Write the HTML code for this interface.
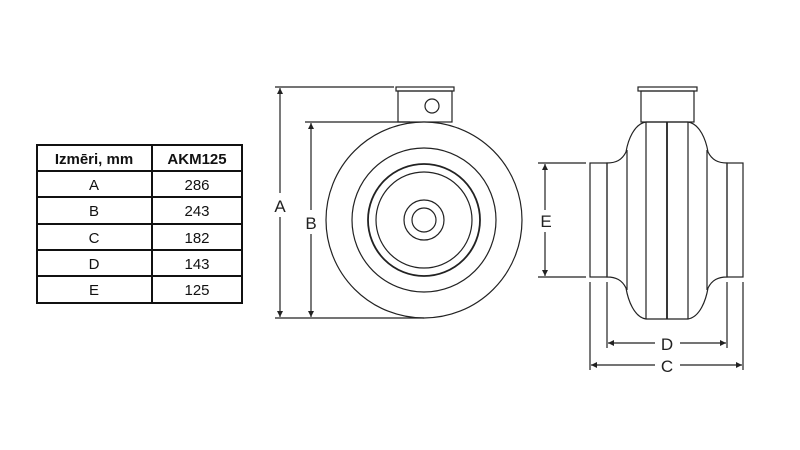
<!DOCTYPE html>
<html><head><meta charset="utf-8"><style>
body{margin:0;background:#fff;}
svg{display:block;}
text{font-family:"Liberation Sans",sans-serif;}
</style></head><body>
<svg width="800" height="450" viewBox="0 0 800 450" xmlns="http://www.w3.org/2000/svg">
<defs>
<marker id="ar" viewBox="0 0 10 10" refX="10" refY="5" markerWidth="10" markerHeight="6" orient="auto-start-reverse" markerUnits="userSpaceOnUse"><path d="M0,0 L10,5 L0,10 z" fill="#222"/></marker>
</defs>
<!-- table -->
<g stroke="#111" stroke-width="2" fill="none">
<rect x="37" y="145" width="205" height="158"/>
<line x1="152" y1="145" x2="152" y2="303"/>
<line x1="37" y1="171" x2="242" y2="171"/>
<line x1="37" y1="197" x2="242" y2="197"/>
<line x1="37" y1="224" x2="242" y2="224"/>
<line x1="37" y1="250" x2="242" y2="250"/>
<line x1="37" y1="276" x2="242" y2="276"/>
</g>
<g font-size="15" text-anchor="middle" fill="#111">
<text x="94" y="164" font-weight="bold">Izmēri, mm</text>
<text x="197" y="164" font-weight="bold">AKM125</text>
<text x="94" y="190">A</text><text x="197" y="190">286</text>
<text x="94" y="216">B</text><text x="197" y="216">243</text>
<text x="94" y="243">C</text><text x="197" y="243">182</text>
<text x="94" y="269">D</text><text x="197" y="269">143</text>
<text x="94" y="295">E</text><text x="197" y="295">125</text>
</g>
<!-- front view -->
<g stroke="#222" fill="none" stroke-width="1.2">
<rect x="396" y="87" width="58" height="4"/>
<rect x="398" y="91" width="54" height="31"/>
<circle cx="432" cy="106" r="7"/>
<circle cx="424" cy="220" r="98" fill="#fff"/>
<circle cx="424" cy="220" r="72"/>
<circle cx="424" cy="220" r="56" stroke-width="1.8"/>
<circle cx="424" cy="220" r="48"/>
<circle cx="424" cy="220" r="20"/>
<circle cx="424" cy="220" r="12"/>
<line x1="275" y1="87" x2="394" y2="87"/>
<line x1="305" y1="122" x2="410" y2="122"/>
<line x1="275" y1="318" x2="424" y2="318"/>
<line x1="280" y1="88" x2="280" y2="193" marker-start="url(#ar)"/>
<line x1="280" y1="217" x2="280" y2="317" marker-end="url(#ar)"/>
<line x1="311" y1="123" x2="311" y2="210" marker-start="url(#ar)"/>
<line x1="311" y1="234" x2="311" y2="317" marker-end="url(#ar)"/>
</g>
<g font-size="17" fill="#222" text-anchor="middle">
<text x="280" y="212">A</text>
<text x="311" y="229">B</text>
<text x="546" y="227">E</text>
<text x="667" y="350">D</text>
<text x="667" y="372">C</text>
</g>
<!-- side view -->
<g stroke="#222" fill="none" stroke-width="1.2">
<rect x="638" y="87" width="59" height="4"/>
<rect x="641" y="91" width="53" height="31"/>
<path d="M646,122 L688,122 C700,124 706,140 708,152 C712,160 718,163 727,163 L727,277 C718,277 712,280 708,288 C706,300 700,317 688,319 L646,319 C634,317 628,300 626,288 C622,280 616,277 607,277 L607,163 C616,163 622,160 626,152 C628,140 634,124 646,122 Z"/>
<rect x="590" y="163" width="17" height="114"/>
<rect x="727" y="163" width="16" height="114"/>
<line x1="627" y1="150" x2="627" y2="290"/>
<line x1="646" y1="122" x2="646" y2="319"/>
<line x1="667" y1="122" x2="667" y2="319" stroke-width="1.8"/>
<line x1="688" y1="122" x2="688" y2="319"/>
<line x1="707" y1="150" x2="707" y2="290"/>
<line x1="538" y1="163" x2="586" y2="163"/>
<line x1="538" y1="277" x2="586" y2="277"/>
<line x1="545" y1="164" x2="545" y2="210" marker-start="url(#ar)"/>
<line x1="545" y1="232" x2="545" y2="276" marker-end="url(#ar)"/>
<line x1="590" y1="282" x2="590" y2="370"/>
<line x1="743" y1="282" x2="743" y2="370"/>
<line x1="607" y1="282" x2="607" y2="348"/>
<line x1="727" y1="282" x2="727" y2="348"/>
<line x1="608" y1="343" x2="655" y2="343" marker-start="url(#ar)"/>
<line x1="680" y1="343" x2="726" y2="343" marker-end="url(#ar)"/>
<line x1="591" y1="365" x2="655" y2="365" marker-start="url(#ar)"/>
<line x1="680" y1="365" x2="742" y2="365" marker-end="url(#ar)"/>
</g>
</svg>
</body></html>
